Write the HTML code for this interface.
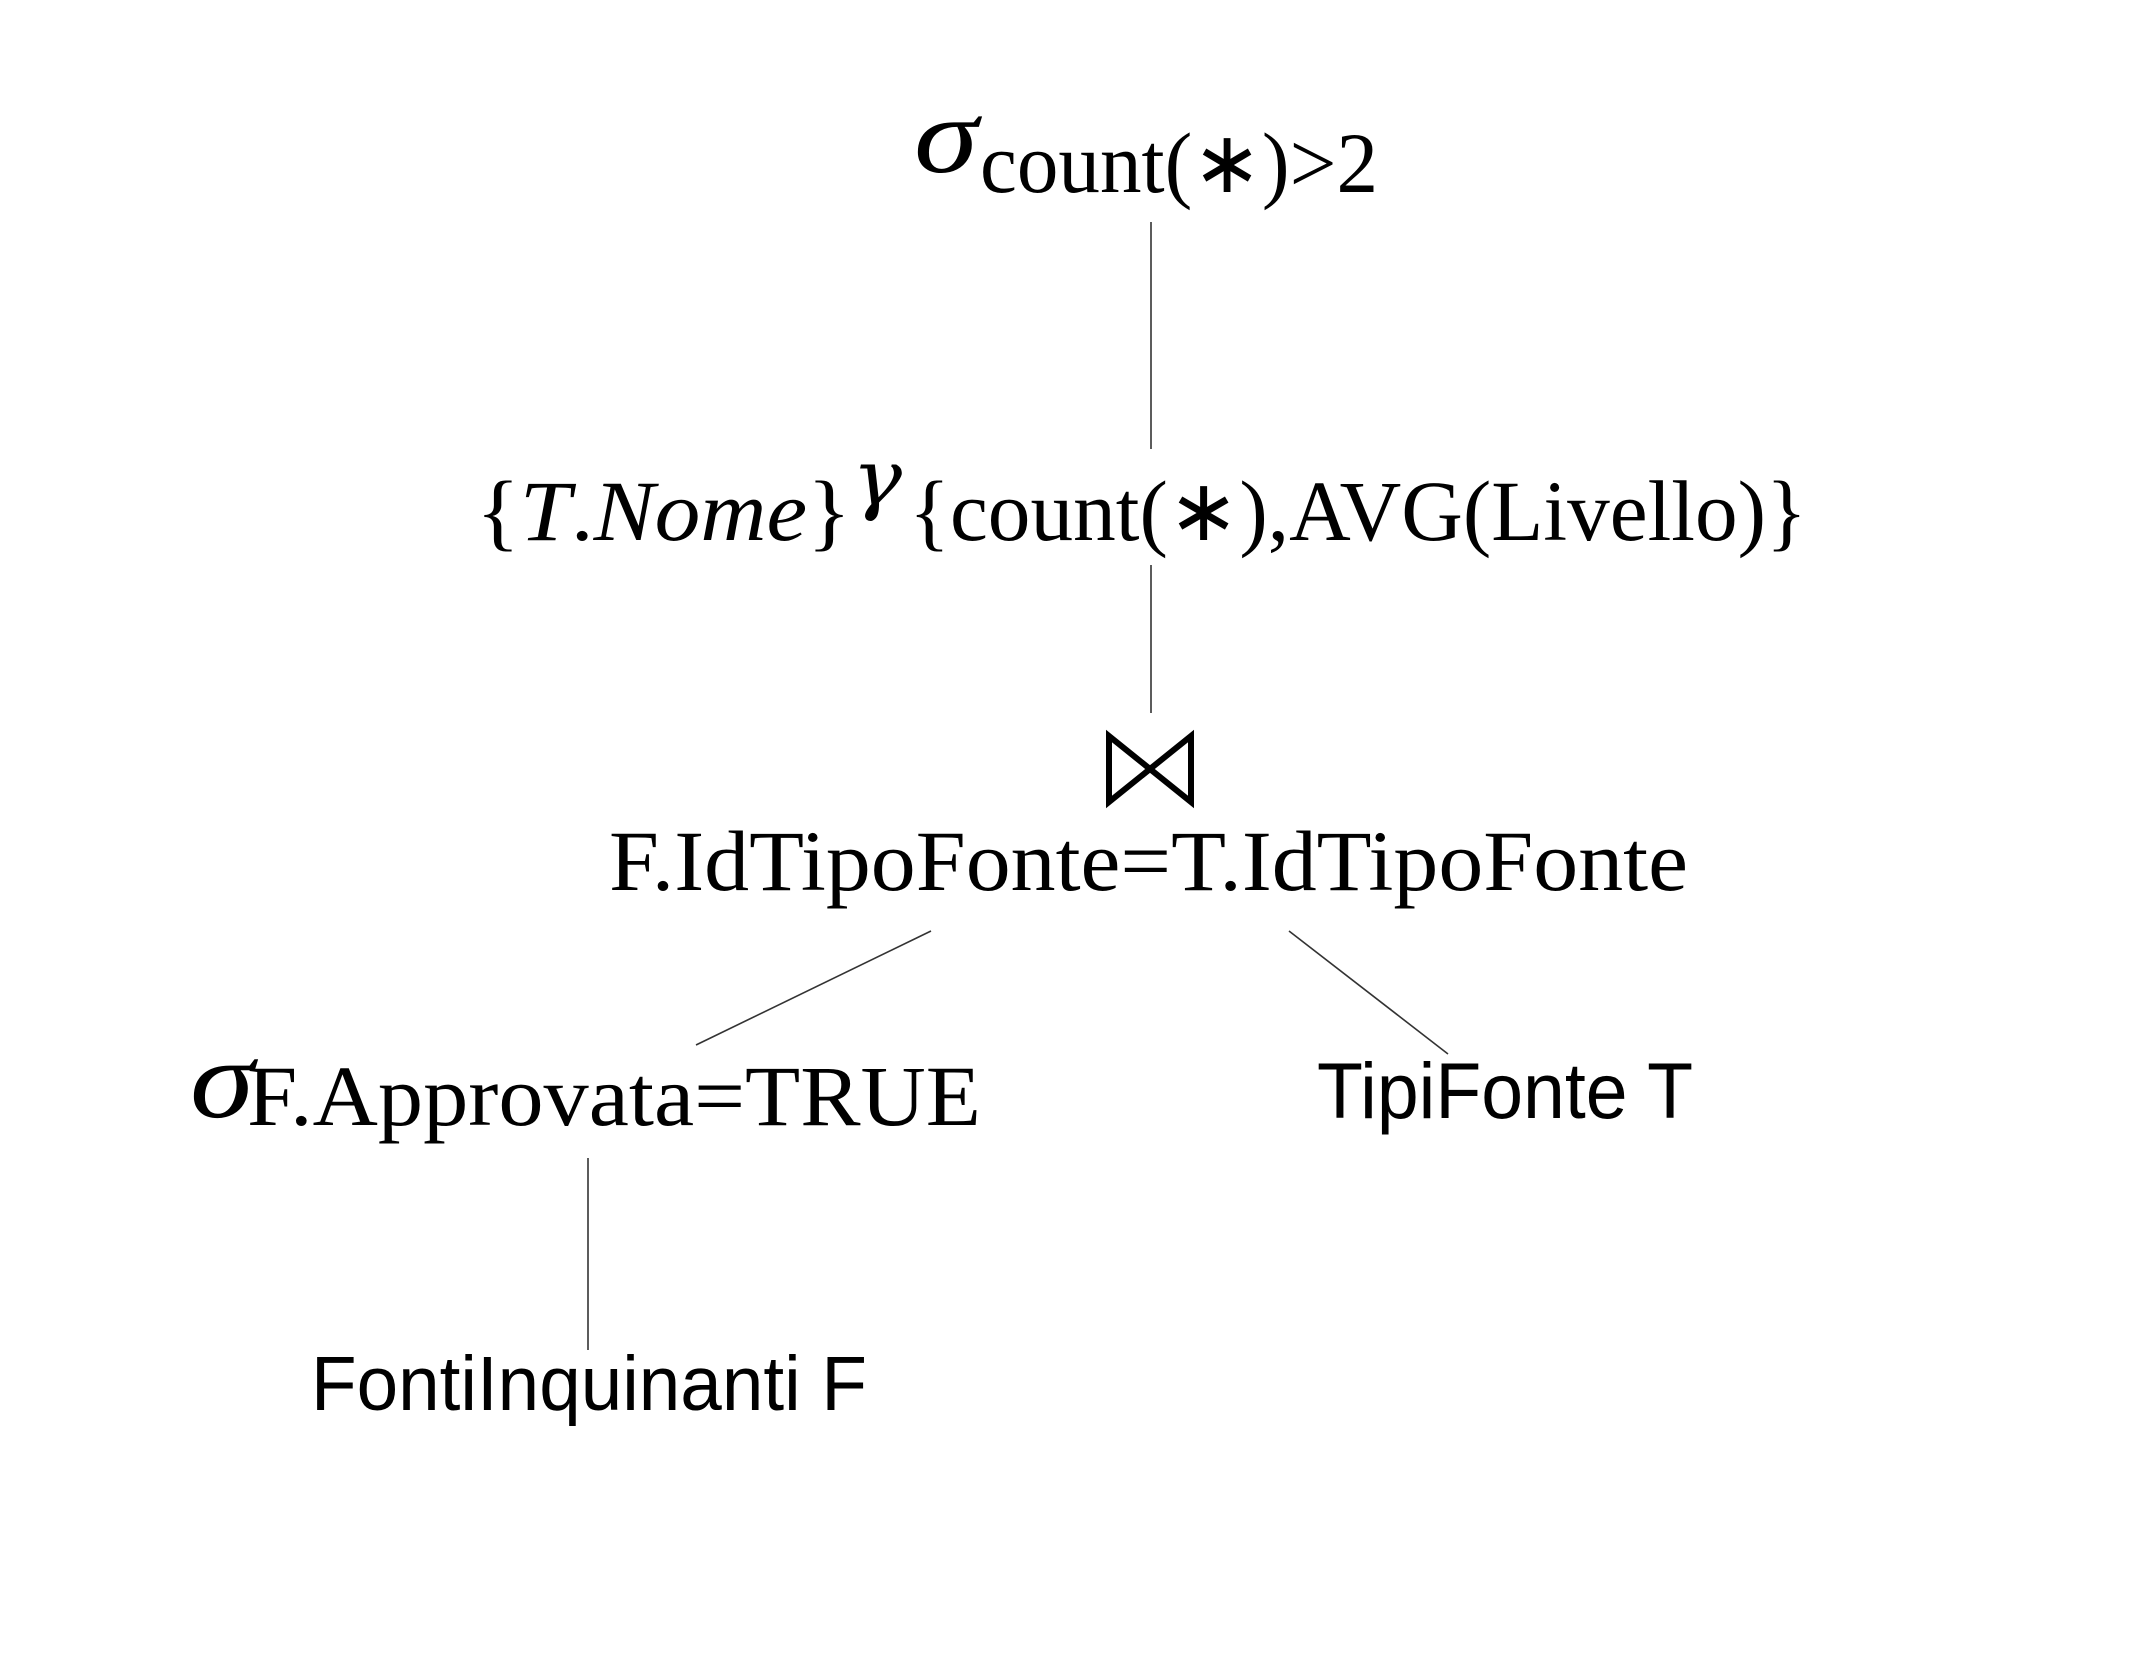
<!DOCTYPE html>
<html><head><meta charset="utf-8"><style>
html,body{margin:0;padding:0;background:#fff;}
svg{display:block;}
.s{font-family:"Liberation Serif",serif;fill:#000;}
.a{font-family:"Liberation Sans",sans-serif;fill:#000;}
</style></head><body>
<svg width="2130" height="1674" viewBox="0 0 2130 1674" xmlns="http://www.w3.org/2000/svg">
<rect width="2130" height="1674" fill="#fff"/>
<g stroke="#333" stroke-width="1.6" fill="none">
<line x1="1151" y1="222" x2="1151" y2="449"/>
<line x1="1151" y1="565" x2="1151" y2="713"/>
<line x1="931" y1="931" x2="696" y2="1045"/>
<line x1="1289" y1="931" x2="1448" y2="1054"/>
<line x1="588" y1="1158" x2="588" y2="1350"/>
</g>
<text class="s" x="914" y="172" font-size="108" font-style="italic" textLength="64" lengthAdjust="spacingAndGlyphs">σ</text>
<text class="s" x="980" y="192" font-size="86" textLength="398" lengthAdjust="spacingAndGlyphs">count(∗)&gt;2</text>
<text class="s" x="476" y="540" font-size="86" textLength="375" lengthAdjust="spacingAndGlyphs">{<tspan font-style="italic">T</tspan>.<tspan font-style="italic">Nome</tspan>}</text>
<text x="852" y="505" font-size="78" font-style="italic" font-family="DejaVu Serif, Liberation Serif, serif" textLength="50" lengthAdjust="spacingAndGlyphs">γ</text>
<text class="s" x="909" y="540" font-size="86" textLength="898" lengthAdjust="spacingAndGlyphs">{count(∗),AVG(Livello)}</text>
<path d="M1109 736 L1109 802 L1191 736 L1191 802 Z" fill="none" stroke="#000" stroke-width="6" stroke-linejoin="miter"/>
<text class="s" x="609" y="890" font-size="86" textLength="1079" lengthAdjust="spacingAndGlyphs">F.IdTipoFonte=T.IdTipoFonte</text>
<text class="s" x="190" y="1117" font-size="112" font-style="italic" textLength="64" lengthAdjust="spacingAndGlyphs">σ</text>
<text class="s" x="247" y="1125" font-size="86" textLength="734" lengthAdjust="spacingAndGlyphs">F.Approvata=TRUE</text>
<text class="a" x="1317" y="1118" font-size="79" textLength="376" lengthAdjust="spacingAndGlyphs">TipiFonte T</text>
<text class="a" x="311" y="1410" font-size="77" textLength="556" lengthAdjust="spacingAndGlyphs">FontiInquinanti F</text>
</svg>
</body></html>
